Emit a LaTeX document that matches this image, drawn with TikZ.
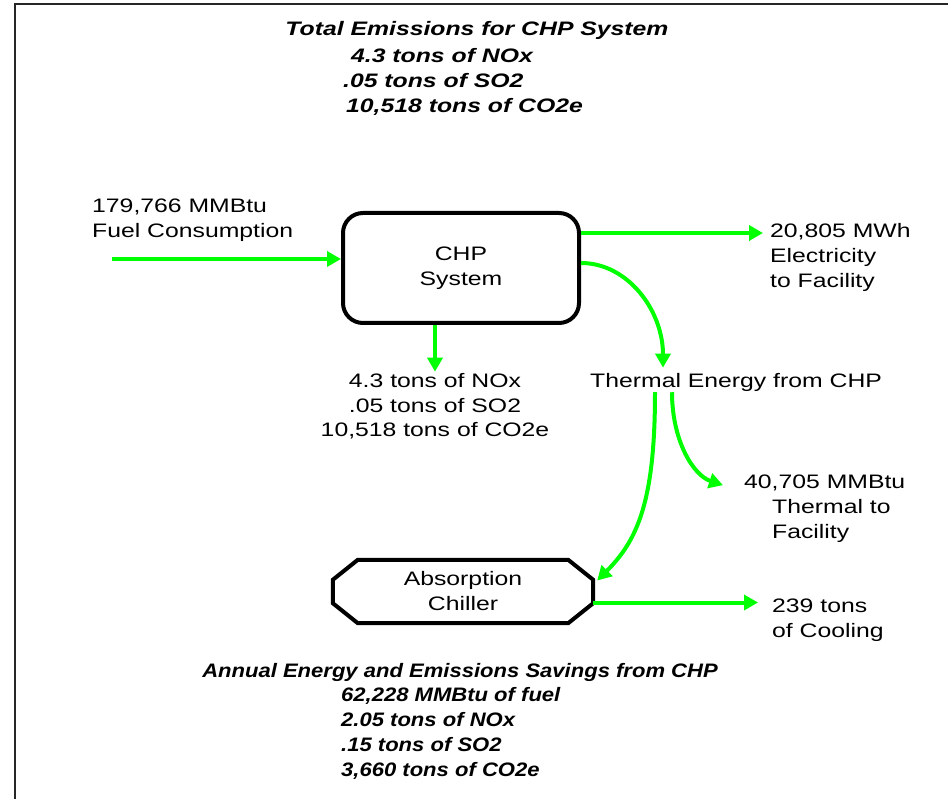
\documentclass[tikz,border=0pt]{standalone}
\usepackage{fontspec}
\setmainfont{Liberation Sans}[FakeStretch=1.27]
\newfontfamily\savingsfont{Liberation Sans}[FakeStretch=1.13]
\usetikzlibrary{arrows.meta}
\definecolor{flowgreen}{RGB}{0,255,0}
\begin{document}
\begin{tikzpicture}[x=1pt, y=-1pt,
  txt/.style={inner sep=0pt, font=\fontsize{19.5}{25}\selectfont},
  totals/.style={inner sep=0pt, font=\fontsize{19.5}{25}\selectfont\bfseries\itshape},
  savings/.style={inner sep=0pt, font={\savingsfont\bfseries\itshape\fontsize{19.5}{25}\selectfont}},
  flow/.style={flowgreen, line width=4pt, -{Triangle[length=14pt,width=15pt]}}]
\useasboundingbox (0,0) rectangle (948,799);
\draw[line width=2pt, black!85] (15,799) -- (15,4) -- (948,4);
% totals
\node[totals, anchor=base] (tottitle) at (477,36) {Total Emissions for CHP System};
\node[totals, anchor=base west, align=left] (totlist) at (343,113) {\hspace*{8pt}4.3 tons of NOx\\.05 tons of SO2\\\hspace*{3pt}10,518 tons of CO2e};
% boxes
\node[txt, draw, line width=4pt, rounded corners=20pt, minimum width=236pt, minimum height=110pt, align=center] (chp) at (461,268) {CHP\\System};
\node[txt, minimum width=260pt, minimum height=63pt, align=center] (chiller) at (463,591.5) {Absorption\\Chiller};
\draw[line width=4pt] ([xshift=25pt]chiller.north west) -- ([xshift=-25pt]chiller.north east)
  -- ([yshift=-20pt]chiller.north east) -- ([yshift=20pt]chiller.south east)
  -- ([xshift=-25pt]chiller.south east) -- ([xshift=25pt]chiller.south west)
  -- ([yshift=20pt]chiller.south west) -- ([yshift=-20pt]chiller.north west) -- cycle;
% labels
\node[txt, anchor=base west, align=left] (fuel) at (92,238) {179,766 MMBtu\\Fuel Consumption};
\node[txt, anchor=base west, align=left] (elec) at (770,288) {20,805 MWh\\Electricity\\to Facility};
\node[txt, anchor=base, align=center] (emis) at (435,437) {4.3 tons of NOx\\.05 tons of SO2\\10,518 tons of CO2e};
\node[txt, anchor=base west] (therm) at (590,388) {Thermal Energy from CHP};
\node[txt, anchor=base west, align=left] (facil) at (744,538) {40,705 MMBtu\\\hspace*{28pt}Thermal to\\\hspace*{28pt}Facility};
\node[txt, anchor=base west, align=left] (cool) at (772,637) {239 tons\\of Cooling};
% savings
\node[savings, anchor=base] (savetitle) at (460,677) {Annual Energy and Emissions Savings from CHP};
\node[savings, anchor=base west, align=left] (savelist) at (341,776) {62,228 MMBtu of fuel\\2.05 tons of NOx\\.15 tons of SO2\\3,660 tons of CO2e};
% flows
\coordinate (fuelsrc) at (112,259);
\draw[flow] (fuelsrc) -- (fuelsrc -| chp.west);
\draw[flow] ([xshift=-26pt]chp.south) -- ([xshift=-26pt,yshift=1pt]chp.south |- emis.north);
\coordinate (elecsrc) at ([yshift=35pt]chp.east);
\draw[flow] (elecsrc) -- ([xshift=-7pt]elecsrc -| elec.west);
\draw[flow] ([yshift=5pt]chp.east) .. controls +(47,0) and +(0,-57) .. ([xshift=73pt,yshift=6pt]therm.north west);
\draw[flow] ([xshift=65pt]therm.south west) .. controls +(0,110) and +(40,-40) .. ([xshift=4pt,yshift=11pt]chiller.east);
\draw[flow] ([xshift=82pt]therm.south west) .. controls +(0,48) and +(-30,-10) .. ([xshift=-21pt,yshift=-11pt]facil.north west);
\coordinate (coolsrc) at ([yshift=-11pt]chiller.east);
\draw[flow] (coolsrc) -- ([xshift=-14pt]coolsrc -| cool.west);
\end{tikzpicture}
\end{document}
